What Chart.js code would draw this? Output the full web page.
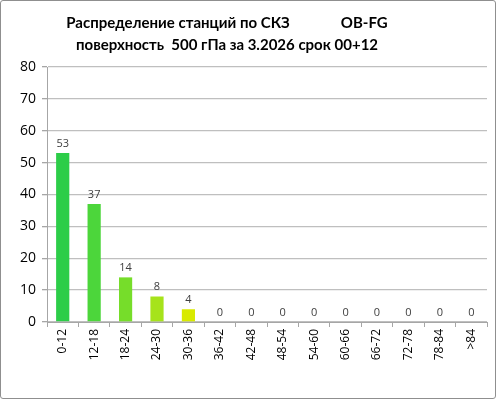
<!DOCTYPE html>
<html>
<head>
<meta charset="utf-8">
<script src="https://cdn.jsdelivr.net/npm/chart.js@4.4.1/dist/chart.umd.min.js"></script>
<style>
  html, body { margin: 0; padding: 0; background: #fff; }
  #wrap { position: relative; width: 496px; height: 399px; }
  #frame { position: absolute; left: 0; top: 0; width: 494px; height: 397px; border: 1px solid #8f8f8f; border-radius: 3px; pointer-events: none; }
</style>
</head>
<body>
<div id="wrap">
  <canvas id="chart" width="496" height="399"></canvas>
  <div id="frame"></div>
</div>
<script>
const titleLines = ['Распределение станций по СКЗ              OB-FG', 'поверхность  500 гПа за 3.2026 срок 00+12'];
const categories = ['0-12', '12-18', '18-24', '24-30', '30-36', '36-42', '42-48', '48-54', '54-60', '60-66', '66-72', '72-78', '78-84', '>84'];
const stationCounts = [53, 37, 14, 8, 4, 0, 0, 0, 0, 0, 0, 0, 0, 0];
const barColors = ['#2ccd48', '#4cd63b', '#76dd2a', '#a6e31b', '#d8ea00', '#d8ea00', '#d8ea00', '#d8ea00', '#d8ea00', '#d8ea00', '#d8ea00', '#d8ea00', '#d8ea00', '#d8ea00'];
const yTicks = [0, 10, 20, 30, 40, 50, 60, 70, 80];

// title drawn centred over the plot like the original
const titlePlugin = {
    id: 'titleLines',
    afterDraw(chart) {
        const ctx = chart.ctx;
        ctx.save();
        ctx.font = 'bold 15px Lato, "Open Sans", sans-serif';
        ctx.fillStyle = '#000';
        ctx.textAlign = 'center';
        ctx.textBaseline = 'middle';
        ctx.fillText(titleLines[0], 227, 23);
        ctx.fillText(titleLines[1], 227, 45);
        ctx.restore();
    }
};

// values above bars
const valueLabels = {
    id: 'valueLabels',
    afterDatasetsDraw(chart) {
        const ctx = chart.ctx;
        const meta = chart.getDatasetMeta(0);
        ctx.save();
        ctx.font = '11px "Open Sans", sans-serif';
        ctx.fillStyle = '#404040';
        ctx.textAlign = 'center';
        ctx.textBaseline = 'bottom';
        meta.data.forEach((bar, i) => {
            ctx.fillText(stationCounts[i], bar.x, bar.y - 4);
        });
        ctx.restore();
    }
};

new Chart(document.getElementById('chart'), {
    type: 'bar',
    data: {
        labels: categories,
        datasets: [{
            data: stationCounts,
            backgroundColor: barColors,
            borderWidth: 0,
            categoryPercentage: 1,
            barPercentage: 0.42
        }]
    },
    options: {
        responsive: false,
        animation: false,
        layout: { padding: { top: 67, right: 9, left: 0, bottom: 0 } },
        plugins: {
            legend: { display: false },
            title: { display: false },
            tooltip: { enabled: false }
        },
        scales: {
            y: {
                min: 0,
                max: 80,
                afterBuildTicks: scale => { scale.ticks = yTicks.map(v => ({ value: v })); },
                afterFit: scale => { scale.width = 47; },
                ticks: { color: '#000', font: { size: 14, family: '"Open Sans", sans-serif' }, padding: 6 },
                grid: { color: '#bfbfbf', lineWidth: 1.3, tickLength: 5, tickColor: '#a6a6a6' },
                border: { color: '#a6a6a6', width: 1 }
            },
            x: {
                afterFit: scale => { scale.height = 77; },
                ticks: { color: '#000', font: { size: 12, family: '"Open Sans", sans-serif' }, minRotation: 90, maxRotation: 90, padding: 2 },
                grid: { drawOnChartArea: false, offset: true, tickLength: 5, color: '#a6a6a6' },
                border: { color: '#a6a6a6', width: 1 }
            }
        }
    },
    plugins: [titlePlugin, valueLabels]
});
</script>
</body>
</html>
